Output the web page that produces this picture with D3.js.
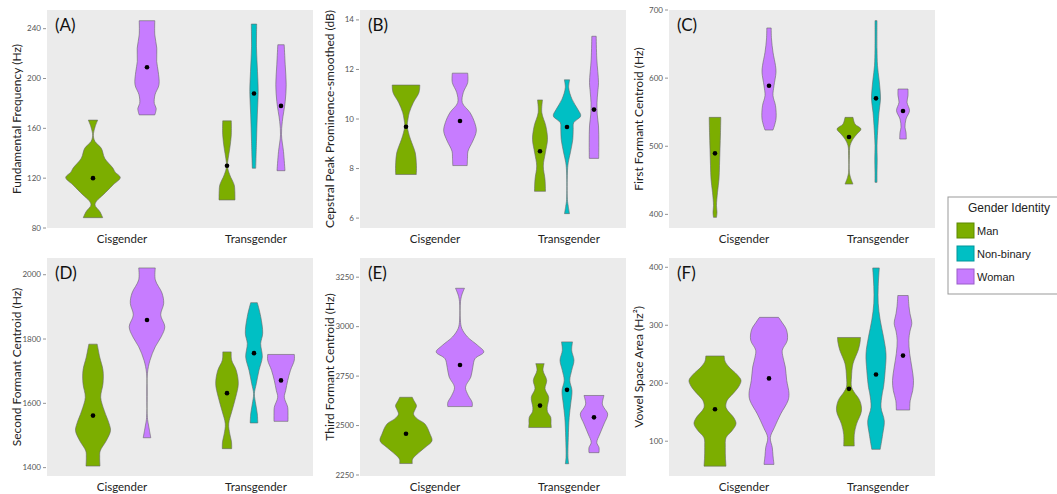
<!DOCTYPE html>
<html>
<head>
<meta charset="utf-8">
<script src="https://cdn.jsdelivr.net/npm/d3@7"></script>
<style>
  body { margin: 0; background: #fff; }
  svg { display: block; font-family: Lato, 'Open Sans', sans-serif; }
</style>
</head>
<body>
<svg width="1057" height="494"></svg>
<script>
const groups = ['Cisgender', 'Transgender'];
const identities = ['Man', 'Non-binary', 'Woman'];
const fills = ['#7CAE00', '#00BFC4', '#C77CFF'];
const strokes = ['#5d8a00', '#00969a', '#9a5cc8'];

const letters = ['(A)', '(B)', '(C)', '(D)', '(E)', '(F)'];
const titles = ['Fundamental Frequency (Hz)', 'Cepstral Peak Prominence-smoothed (dB)', 'First Formant Centroid (Hz)',
  'Second Formant Centroid (Hz)', 'Third Formant Centroid (Hz)', 'Vowel Space Area (Hz\u00B2)'];

const ticksA = [80, 120, 160, 200, 240];
const ticksB = [6, 8, 10, 12, 14];
const ticksC = [400, 500, 600, 700];
const ticksD = [1400, 1600, 1800, 2000];
const ticksE = [2250, 2500, 2750, 3000, 3250];
const ticksF = [100, 200, 300, 400];

const domainA = [80, 255];
const domainB = [5.6, 14.4];
const domainC = [380, 700];
const domainD = [1374, 2052];
const domainE = [2245, 3347];
const domainF = [40, 416];

// each violin: group, identity, mean, profile [value, density] from bottom to top
const violinsA = [
  ['Cisgender', 'Man', 120, [[88.3,9.7],[93,7],[98.5,2],[102,4],[106.5,10],[114.6,20],[120.5,27.3],[125,22],[128,20],[136,11.7],[144,8.3],[149.4,2],[153,0.5],[156,0.5],[161.5,2.2],[166.6,4.7]]],
  ['Cisgender', 'Woman', 209, [[170.8,7.8],[176,9.2],[180,7.3],[187,8],[195,12],[205.6,11.2],[213.7,9.7],[224.4,9.8],[235,7.8],[246.4,7.8]]],
  ['Transgender', 'Man', 130, [[102.5,8],[110,7.8],[114.6,7.2],[122.6,2.8],[129.3,0.5],[136,1.2],[144,2.8],[154.8,4.3],[166,4.3]]],
  ['Transgender', 'Non-binary', 188, [[128,1.7],[149.4,2.5],[170.8,3.3],[189.6,4.2],[205.6,3.5],[224.4,2.5],[243.7,2.7]]],
  ['Transgender', 'Woman', 178, [[126,4],[141.3,2.5],[154.8,0.5],[165.4,1.3],[181.5,4.2],[195,5.2],[211,4.2],[227.1,3.2]]]
];
const violinsB = [
  ['Cisgender', 'Man', 9.69, [[7.76,10.3],[8.0,10.5],[8.23,10.3],[8.63,9.3],[9.18,4.5],[9.45,2.5],[9.72,1.2],[10.0,2],[10.26,3.3],[10.66,7.3],[11.07,13],[11.37,13.8]]],
  ['Cisgender', 'Woman', 9.92, [[8.12,7.2],[8.4,7.5],[8.7,8],[9.11,12.8],[9.51,16.3],[9.85,14.7],[10.26,10],[10.66,2.3],[11.07,3.3],[11.47,7.7],[11.85,7.7]]],
  ['Transgender', 'Man', 8.7, [[7.08,5.5],[7.56,5],[8.1,3.3],[8.63,5.3],[9.18,7.5],[9.72,5.8],[10.26,1.8],[10.77,2.5]]],
  ['Transgender', 'Non-binary', 9.68, [[6.18,2.5],[6.47,1.3],[6.75,0.4],[7.82,0.4],[8.23,1.2],[8.63,3.3],[9.18,5.8],[9.58,6.2],[9.85,6.7],[10.12,13.7],[10.39,10.8],[10.8,5],[11.27,1.7],[11.58,2.7]]],
  ['Transgender', 'Woman', 10.38, [[8.41,4.7],[9.04,4.8],[9.72,4.5],[10.2,3.2],[10.66,3],[11.1,3.8],[11.47,4.5],[12.42,2.8],[13.34,2.2]]]
];
const violinsC = [
  ['Cisgender', 'Man', 489.6, [[395.6,1.5],[403,2],[412.7,1.5],[432.3,2.5],[451.9,4],[471.5,4.5],[495.9,5],[520.4,5.5],[542.4,5.8]]],
  ['Cisgender', 'Woman', 588.9, [[523.8,4],[540,7],[559.6,6.5],[574.3,4],[588.9,5],[608.5,7],[618.3,6.5],[637.9,4],[657.5,2.5],[673.6,2.2]]],
  ['Transgender', 'Man', 513.6, [[444.5,4],[454.3,1.5],[461.7,0.4],[486,0.4],[500.8,1],[510.6,4],[518,8],[525.3,12],[532.6,6],[542.4,4]]],
  ['Transgender', 'Non-binary', 570.3, [[447,1],[461.7,1],[481.3,1.2],[500.8,1],[530.2,2],[549.8,3],[569.4,4.5],[584,4],[598.7,3],[618.3,1.5],[642.8,1],[684.4,1]]],
  ['Transgender', 'Woman', 551.7, [[510.6,3.3],[520.4,3],[527.8,2],[540,3],[552.2,6.5],[564.5,4],[574.3,5],[584,5]]]
];
const violinsD = [
  ['Cisgender', 'Man', 1561.8, [[1405,7],[1431,6.7],[1452,7.2],[1484,13.3],[1515,17.5],[1536,16.2],[1577,11.3],[1619,7.7],[1661,10],[1703,10],[1744,6.7],[1784,4.2]]],
  ['Cisgender', 'Woman', 1859, [[1493,3.8],[1515,2.5],[1536,1.3],[1556,0.4],[1692,0.4],[1734,3],[1776,8.3],[1807,14.2],[1838,17.8],[1875,13.7],[1911,16.7],[1943,15],[1984,8.3],[2021,8.3]]],
  ['Transgender', 'Man', 1631.7, [[1459,4.7],[1480,4.5],[1505,2.8],[1536,1.7],[1577,5],[1619,8.7],[1661,11.3],[1703,9.2],[1734,4.7],[1760,4.2]]],
  ['Transgender', 'Non-binary', 1756, [[1539,3.8],[1567,3.3],[1598,1.7],[1630,0.4],[1661,2.3],[1703,5],[1744,8.3],[1786,6.7],[1818,8.7],[1870,6.7],[1913,3.3]]],
  ['Transgender', 'Woman', 1671.4, [[1544,7],[1570,7],[1588,6.7],[1619,3.3],[1640,4.7],[1671,6.7],[1703,9.5],[1734,13.3],[1752,13.3]]]
];
const violinsE = [
  ['Cisgender', 'Man', 2458.5, [[2308,6.3],[2330,6.5],[2355,11],[2389,19],[2423,26],[2457,24],[2508,19],[2535,11],[2558,7.5],[2580,9],[2600,10.5],[2625,8],[2643,6.3]]],
  ['Cisgender', 'Woman', 2806, [[2596,12.2],[2617,12.2],[2652,8.3],[2694,5.5],[2745,10.8],[2795,12.8],[2838,15],[2872,23.8],[2906,17.5],[2948,7.5],[2991,1.8],[3033,0.4],[3126,0.5],[3160,1.8],[3194,4.5]]],
  ['Transgender', 'Man', 2601, [[2490,11.3],[2510,11],[2541,10.8],[2570,7.5],[2592,7.2],[2643,8.7],[2686,5],[2728,6.7],[2779,3],[2813,4.2]]],
  ['Transgender', 'Non-binary', 2680.5, [[2307,1.7],[2338,1],[2440,1.3],[2541,2.2],[2609,3.7],[2677,5],[2728,2.8],[2779,4.7],[2830,7],[2880,4.7],[2923,5.5]]],
  ['Transgender', 'Woman', 2541.5, [[2363,5],[2389,5],[2414,2.8],[2457,5.8],[2508,10],[2558,13.7],[2590,10],[2609,8.3],[2652,10]]]
];
const violinsF = [
  ['Cisgender', 'Man', 155, [[57,11],[70,10.5],[89,10.3],[106,11],[118,17],[130,21],[140,19],[158,11],[170,12],[182,18],[195,24],[205,26],[215,22],[228,14],[238,10],[247,9.2]]],
  ['Cisgender', 'Woman', 208.3, [[60,5],[75,4],[89,3.3],[106,1.3],[124,5.5],[147,11.7],[170,19],[182,20],[205,17.7],[228,16.3],[245,14],[257,13.3],[274,18.3],[292,17.5],[305,13],[313.6,9.5]]],
  ['Transgender', 'Man', 190.3, [[91.8,5.3],[112,5.3],[129.5,7.5],[152.6,12.5],[170,10.8],[185,5],[193.3,2.5],[210.7,2.5],[233.8,4],[256.9,9.2],[270,11],[278.9,11.5]]],
  ['Transgender', 'Non-binary', 215, [[86,4.2],[112,6.7],[135,8.3],[158.5,5],[181.6,6.2],[193,7.5],[222,9.2],[251,10],[280,7.5],[309,4.2],[338,2.2],[367,2.2],[398.8,3.3]]],
  ['Transgender', 'Woman', 247.7, [[153.8,6.7],[170,7.2],[187.4,9.7],[204.8,10.5],[228,8.8],[251,6.7],[274.2,5.8],[290,7],[303.2,8.8],[320,7],[332.2,6],[351.3,5.2]]]
];

const allTicks = [ticksA, ticksB, ticksC, ticksD, ticksE, ticksF];
const allDomains = [domainA, domainB, domainC, domainD, domainE, domainF];
const allViolins = [violinsA, violinsB, violinsC, violinsD, violinsE, violinsF];

const svg = d3.select('svg');
const colX = [47, 360, 669];
const rowY = [10, 258];
const pw = 266, ph = 218;
const dodgeStep = 27;

const color = d3.scaleOrdinal().domain(identities).range(fills);
const edge = d3.scaleOrdinal().domain(identities).range(strokes);
const dodge = d3.scalePoint().domain(identities).range([-dodgeStep, dodgeStep]);
const widthScale = d3.scaleLinear().domain([0, 27]).range([0, dodgeStep]);

allViolins.forEach((violins, i) => {
  const x0 = colX[i % 3], y0 = rowY[Math.floor(i / 3)];
  const g = svg.append('g');

  g.append('rect')
    .attr('x', x0).attr('y', y0).attr('width', pw).attr('height', ph)
    .attr('fill', '#ebebeb');

  const x = d3.scalePoint().domain(groups).range([x0 + 6, x0 + 274]).padding(0.5);
  const y = d3.scaleLinear().domain(allDomains[i]).range([y0 + ph, y0]);

  // y ticks
  const ticks = g.selectAll('.tick').data(allTicks[i]).enter().append('g')
    .attr('transform', d => `translate(0,${y(d)})`);
  ticks.append('line')
    .attr('x1', x0 - 4).attr('x2', x0 - 1)
    .attr('stroke', '#777').attr('stroke-width', 0.8);
  ticks.append('text')
    .attr('x', x0 - 6).attr('dy', '0.32em')
    .attr('text-anchor', 'end')
    .attr('font-size', 8).attr('fill', '#555')
    .text(d => d);

  // x labels
  g.selectAll('.xl').data(groups).enter().append('text')
    .attr('x', d => x(d) + 2).attr('y', y0 + ph + 15)
    .attr('text-anchor', 'middle')
    .attr('font-size', 11.5).attr('fill', '#222')
    .text(d => d);

  // y title
  g.append('text')
    .attr('transform', `translate(${x0 - 30},${y0 + ph / 2}) rotate(-90)`)
    .attr('dy', '0.35em')
    .attr('text-anchor', 'middle')
    .attr('font-size', 12).attr('fill', '#222')
    .text(titles[i]);

  // panel letter
  g.append('text')
    .attr('x', x0 + 8).attr('y', y0 + 21)
    .attr('font-size', 17).attr('fill', '#111')
    .text(letters[i]);

  // violins
  violins.forEach(([grp, id, mean, profile]) => {
    const cx = x(grp) + dodge(id);
    const area = d3.area()
      .y(d => y(d[0]))
      .x0(d => cx - widthScale(d[1]))
      .x1(d => cx + widthScale(d[1]))
      .curve(d3.curveCatmullRom.alpha(0.5));
    g.append('path')
      .datum(profile)
      .attr('d', area)
      .attr('fill', color(id))
      .attr('stroke', '#666')
      .attr('stroke-width', 0.6);
    g.append('circle')
      .attr('cx', cx).attr('cy', y(mean)).attr('r', 2.3)
      .attr('fill', '#000');
  });
});

// legend
const legend = svg.append('g').attr('font-family', "'Liberation Sans', Arial, sans-serif");
legend.append('rect')
  .attr('x', 948).attr('y', 197).attr('width', 115).attr('height', 97)
  .attr('fill', '#fff').attr('stroke', '#999');
legend.append('text')
  .attr('x', 1009).attr('y', 212)
  .attr('text-anchor', 'middle')
  .attr('font-size', 12).attr('fill', '#222')
  .text('Gender Identity');
const items = legend.selectAll('.item').data(identities).enter().append('g')
  .attr('transform', (d, i) => `translate(957,${223 + i * 23})`);
items.append('rect')
  .attr('width', 17).attr('height', 15)
  .attr('fill', d => color(d)).attr('stroke', d => edge(d));
items.append('text')
  .attr('x', 20).attr('y', 11.5)
  .attr('font-size', 11).attr('fill', '#222')
  .text(d => d);
</script>
</body>
</html>
